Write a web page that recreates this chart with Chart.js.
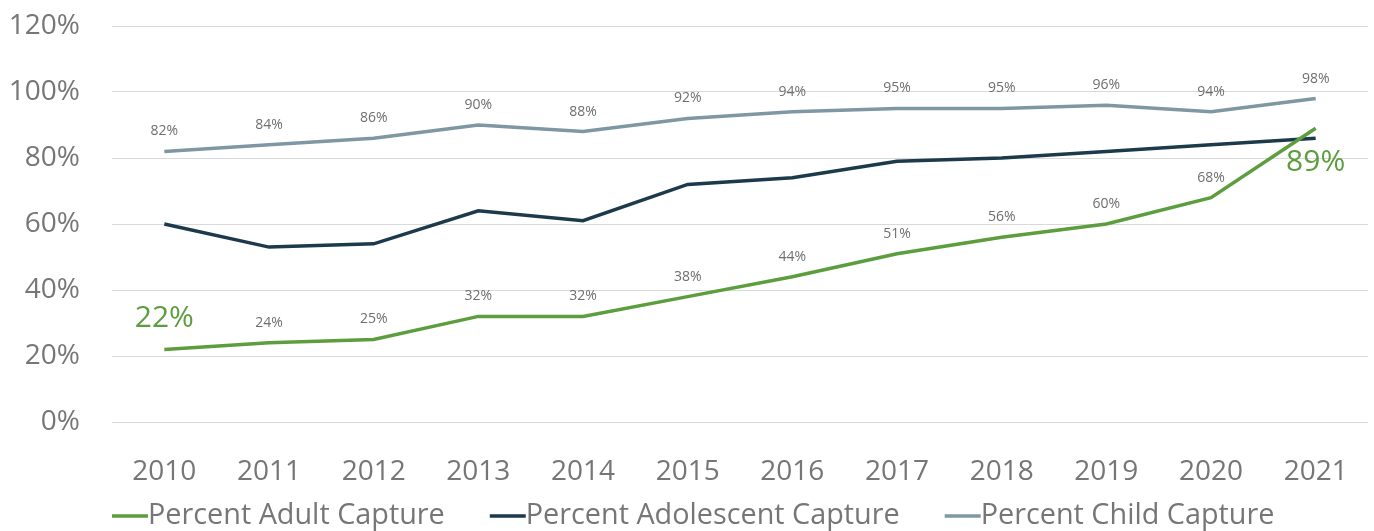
<!DOCTYPE html>
<html>
<head>
<meta charset="utf-8">
<script src="https://cdn.jsdelivr.net/npm/chart.js@4"></script>
<style>
  html, body { margin: 0; padding: 0; background: #fff; }
  #wrap { width: 1374px; height: 531px; }
</style>
</head>
<body>
<div id="wrap"><canvas id="chartCanvas"></canvas></div>
<script>
const years = ["2010", "2011", "2012", "2013", "2014", "2015", "2016", "2017", "2018", "2019", "2020", "2021"];
const adultCapture = [22, 24, 25, 32, 32, 38, 44, 51, 56, 60, 68, 89];
const adolescentCapture = [60, 53, 54, 64, 61, 72, 74, 79, 80, 82, 84, 86];
const childCapture = [82, 84, 86, 90, 88, 92, 94, 95, 95, 96, 94, 98];
const yTicks = [0, 20, 40, 60, 80, 100, 120];

const GREEN = "#5c9e3e";
const NAVY = "#1c3a4c";
const SLATE = "#7f97a3";
const TEXT = "#767676";
const FONT = "'Open Sans', 'Noto Sans', sans-serif";

// draws the small percent labels above the points (first and last adult labels big)
const pointLabels = {
  id: "pointLabels",
  afterDatasetsDraw(chart) {
    const ctx = chart.ctx;
    ctx.save();
    ctx.textAlign = "center";
    ctx.textBaseline = "middle";
    chart.data.datasets.forEach((ds, di) => {
      if (!ds.showLabels) return;
      const meta = chart.getDatasetMeta(di);
      meta.data.forEach((pt, i) => {
        const big = ds.bigLabels && ds.bigLabels.includes(i);
        if (big) {
          ctx.font = "30px " + FONT;
          ctx.fillStyle = ds.borderColor;
          const dy = i === 0 ? -31 : 34;
          ctx.fillText(ds.data[i] + "%", pt.x, pt.y + dy);
        } else {
          ctx.font = "14px " + FONT;
          ctx.fillStyle = "#6e6e6e";
          ctx.fillText(ds.data[i] + "%", pt.x, pt.y - 20);
        }
      });
    });
    ctx.restore();
  },
};

// legend drawn by hand: short line then the text right after it
const lineLegend = {
  id: "lineLegend",
  afterDraw(chart) {
    const ctx = chart.ctx;
    ctx.save();
    ctx.font = "28.8px " + FONT;
    ctx.textBaseline = "middle";
    ctx.textAlign = "left";
    let x = chart.chartArea.left;
    const y = 516;
    chart.data.datasets.forEach((ds) => {
      ctx.fillStyle = ds.borderColor;
      ctx.fillRect(x, y - 1.75, 36, 3.5);
      x += 36;
      ctx.fillStyle = TEXT;
      ctx.fillText(ds.label, x, y);
      x += ctx.measureText(ds.label).width + 45;
    });
    ctx.restore();
  },
};

const ctx = document.getElementById("chartCanvas").getContext("2d");

const chart = new Chart(ctx, {
  type: "line",
  data: {
    labels: years,
    datasets: [
      {
        label: "Percent Adult Capture",
        data: adultCapture,
        borderColor: GREEN,
        backgroundColor: GREEN,
        showLabels: true,
        bigLabels: [0, 11],
      },
      {
        label: "Percent Adolescent Capture",
        data: adolescentCapture,
        borderColor: NAVY,
        backgroundColor: NAVY,
      },
      {
        label: "Percent Child Capture",
        data: childCapture,
        borderColor: SLATE,
        backgroundColor: SLATE,
        showLabels: true,
      },
    ],
  },
  options: {
    responsive: true,
    maintainAspectRatio: false,
    animation: false,
    layout: { padding: { top: 26, right: 6, left: 0, bottom: 32 } },
    elements: {
      line: { borderWidth: 3.5, tension: 0 },
      point: { radius: 0 },
    },
    scales: {
      x: {
        offset: true,
        grid: { display: false },
        border: { display: false },
        ticks: {
          color: TEXT,
          font: { family: FONT, size: 28 },
          padding: 25,
        },
        afterFit: (axis) => {
          axis.height = 77;
        },
      },
      y: {
        min: 0,
        max: 120,
        afterBuildTicks: (axis) => {
          axis.ticks = yTicks.map((v) => ({ value: v }));
        },
        grid: { color: "#d9d9d9", lineWidth: 1, drawTicks: false },
        border: { display: false },
        ticks: {
          color: TEXT,
          font: { family: FONT, size: 28 },
          padding: 32,
          callback: (v) => v + "%",
        },
        afterFit: (axis) => {
          axis.width = 112;
          axis.paddingTop = 0;
          axis.paddingBottom = 0;
        },
      },
    },
    plugins: {
      tooltip: { enabled: false },
      legend: { display: false },
    },
  },
  plugins: [pointLabels, lineLegend],
});
</script>
</body>
</html>
